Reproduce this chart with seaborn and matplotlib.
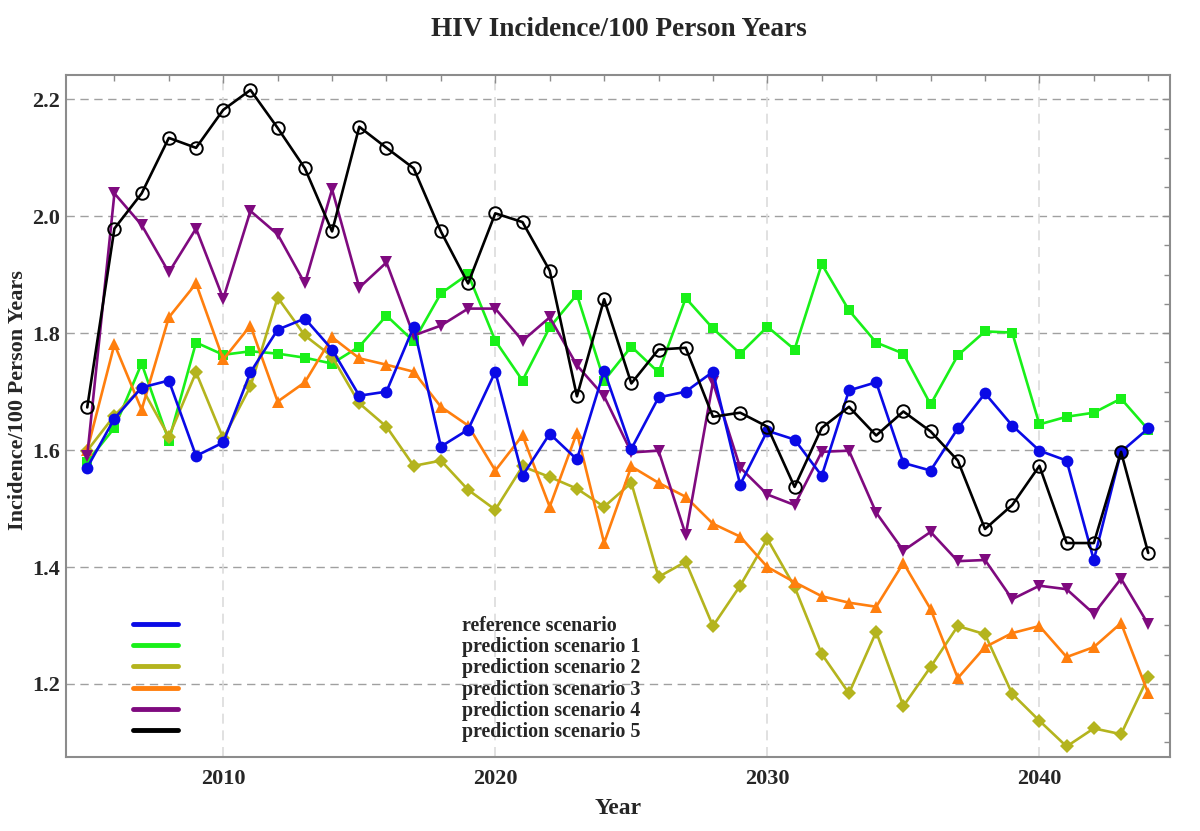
import matplotlib
matplotlib.use("Agg")
import matplotlib.pyplot as plt
import seaborn as sns
import pandas as pd
from matplotlib.lines import Line2D
from matplotlib.ticker import MultipleLocator, FixedLocator

years = list(range(2005, 2045))

reference = [1.570, 1.654, 1.707, 1.719, 1.590, 1.613, 1.733, 1.806, 1.825, 1.772,
             1.693, 1.700, 1.811, 1.606, 1.635, 1.734, 1.556, 1.628, 1.584, 1.736,
             1.602, 1.690, 1.700, 1.734, 1.541, 1.633, 1.618, 1.556, 1.702, 1.716,
             1.578, 1.565, 1.637, 1.697, 1.642, 1.599, 1.582, 1.412, 1.597, 1.637]
scenario1 = [1.580, 1.638, 1.748, 1.616, 1.784, 1.763, 1.769, 1.765, 1.758, 1.748,
             1.777, 1.830, 1.786, 1.868, 1.901, 1.787, 1.719, 1.810, 1.866, 1.719,
             1.777, 1.733, 1.860, 1.808, 1.765, 1.811, 1.772, 1.918, 1.839, 1.784,
             1.765, 1.678, 1.762, 1.803, 1.801, 1.644, 1.657, 1.664, 1.688, 1.635]
scenario2 = [1.599, 1.659, 1.707, 1.623, 1.733, 1.620, 1.709, 1.861, 1.796, 1.760,
             1.680, 1.640, 1.573, 1.582, 1.532, 1.498, 1.572, 1.554, 1.534, 1.503,
             1.544, 1.383, 1.409, 1.299, 1.368, 1.448, 1.366, 1.251, 1.184, 1.289,
             1.162, 1.229, 1.299, 1.285, 1.183, 1.137, 1.093, 1.124, 1.114, 1.212]
scenario3 = [1.600, 1.781, 1.669, 1.827, 1.885, 1.755, 1.813, 1.683, 1.716, 1.793,
             1.757, 1.746, 1.734, 1.674, 1.642, 1.565, 1.625, 1.503, 1.630, 1.441,
             1.572, 1.544, 1.520, 1.474, 1.452, 1.400, 1.374, 1.350, 1.339, 1.332,
             1.407, 1.328, 1.210, 1.263, 1.287, 1.299, 1.246, 1.263, 1.304, 1.184]
scenario4 = [1.590, 2.039, 1.985, 1.904, 1.979, 1.859, 2.009, 1.969, 1.885, 2.046,
             1.878, 1.921, 1.796, 1.813, 1.842, 1.842, 1.787, 1.827, 1.745, 1.692,
             1.596, 1.599, 1.455, 1.716, 1.570, 1.524, 1.506, 1.597, 1.599, 1.493,
             1.428, 1.460, 1.410, 1.412, 1.345, 1.368, 1.362, 1.320, 1.380, 1.302]
scenario5 = [1.673, 1.979, 2.039, 2.134, 2.117, 2.182, 2.216, 2.151, 2.082, 1.974,
             2.153, 2.117, 2.082, 1.974, 1.885, 2.005, 1.990, 1.907, 1.692, 1.858,
             1.714, 1.772, 1.775, 1.657, 1.664, 1.640, 1.537, 1.638, 1.674, 1.625,
             1.666, 1.632, 1.582, 1.465, 1.506, 1.573, 1.441, 1.441, 1.597, 1.424]

labels = ["reference scenario", "prediction scenario 1", "prediction scenario 2",
          "prediction scenario 3", "prediction scenario 4", "prediction scenario 5"]
series = [reference, scenario1, scenario2, scenario3, scenario4, scenario5]
colors = ["#0a0ae6", "#19f019", "#b4b41e", "#ff7f0e", "#7f0a7f", "#000000"]
markers = ["o", "s", "D", "^", "v", "o"]
msizes = [8.5, 6.5, 7, 8, 8, 9]

df = pd.concat([pd.DataFrame({"Year": years, "Incidence": s, "Scenario": l})
                for s, l in zip(series, labels)], ignore_index=True)

sns.set_style("white")
plt.rcParams["font.family"] = ["Liberation Serif", "DejaVu Serif"]
plt.rcParams["font.weight"] = "bold"

fig = plt.figure(figsize=(12, 8.31), dpi=100)
W, H = 1200, 831
ax = fig.add_axes([66 / W, 1 - 757 / H, (1170 - 66) / W, (757 - 75) / H])

frame_c = "#8c8c8c"
ax.set_xlim(2004.22, 2044.8)
ax.set_ylim(1.075, 2.2416)

# grid
for yv in [1.2, 1.4, 1.6, 1.8, 2.0, 2.2]:
    ax.axhline(yv, color="#a0a0a0", lw=1.0, ls=(0, (6, 4)), zorder=0)
for xv in [2010, 2020, 2030, 2040]:
    ax.axvline(xv, color="#dcdcdc", lw=1.2, ls=(0, (6, 4)), zorder=0)

for i, (lab, c, m, ms) in enumerate(zip(labels, colors, markers, msizes)):
    sub = df[df["Scenario"] == lab]
    kw = dict(color=c, lw=1.9, marker=m, markersize=ms, markeredgewidth=0,
              markerfacecolor=c)
    if i == 5:
        kw.update(markerfacecolor="none", markeredgecolor="black",
                  markeredgewidth=1.4)
    sns.lineplot(data=sub, x="Year", y="Incidence", ax=ax, legend=False,
                 zorder=3 + (i if i != 0 else 4.5), **kw)

# ticks
ax.xaxis.set_major_locator(FixedLocator([2010, 2020, 2030, 2040]))
ax.xaxis.set_minor_locator(MultipleLocator(2))
ax.yaxis.set_major_locator(MultipleLocator(0.2))
ax.yaxis.set_minor_locator(MultipleLocator(0.05))
ax.tick_params(which="both", direction="in", top=True, right=True,
               color=frame_c, width=1.0)
ax.tick_params(which="major", length=6, labelsize=16)
ax.tick_params(which="minor", length=4)
ax.tick_params(axis="x", which="major", pad=9)
ax.tick_params(axis="y", which="major", pad=4)
ax.set_xticklabels(["2010", "2020", "2030", "2040"])
ax.set_yticklabels([f"{v:.1f}" for v in ax.get_yticks()])
for t in ax.get_xticklabels() + ax.get_yticklabels():
    t.set_fontweight("bold")

for sp in ax.spines.values():
    sp.set_color(frame_c)
    sp.set_linewidth(1.5)

ax.set_xlabel("Year", fontsize=17, fontweight="bold", labelpad=6)
ax.set_ylabel("Incidence/100 Person Years", fontsize=16, fontweight="bold")
ax.yaxis.set_label_coords(-0.034, 0.523)
fig.text(619 / W, 1 - 30 / H, "HIV Incidence/100 Person Years", ha="center",
         va="center", fontsize=19.6, fontweight="bold")

handles = [Line2D([], [], color=c, lw=3.5) for c in colors]
leg = ax.legend(handles, labels, loc="upper left",
                bbox_to_anchor=(133 / W, 1 - 616 / H), bbox_transform=fig.transFigure,
                frameon=False, fontsize=14.4, handlelength=2.25, handletextpad=14.2,
                labelspacing=0.06, borderpad=0, borderaxespad=0)
for t in leg.get_texts():
    t.set_fontweight("bold")

fig.savefig("out.png", dpi=100)
